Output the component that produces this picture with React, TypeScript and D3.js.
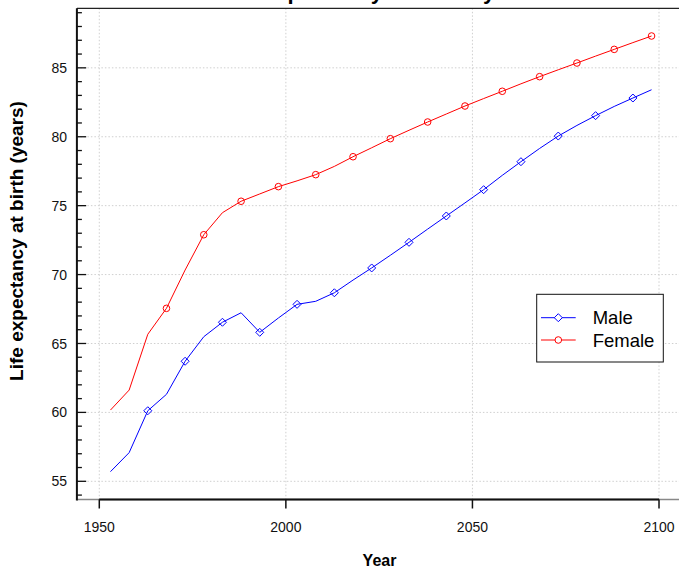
import React from "react";
import * as d3 from "d3";

const years = [1953, 1958, 1963, 1968, 1973, 1978, 1983, 1988, 1993, 1998, 2003, 2008, 2013, 2018, 2023, 2028, 2033, 2038, 2043, 2048, 2053, 2058, 2063, 2068, 2073, 2078, 2083, 2088, 2093, 2098];
const male = [55.70, 57.08, 60.12, 61.31, 63.71, 65.49, 66.54, 67.23, 65.81, 66.85, 67.84, 68.06, 68.68, 69.6, 70.48, 71.4, 72.34, 73.3, 74.25, 75.2, 76.16, 77.2, 78.19, 79.15, 80.05, 80.82, 81.53, 82.2, 82.81, 83.41];
const female = [60.17, 61.62, 65.67, 67.55, 70.33, 72.89, 74.49, 75.32, 75.85, 76.38, 76.8, 77.25, 77.85, 78.55, 79.2, 79.86, 80.47, 81.07, 81.65, 82.23, 82.77, 83.30, 83.84, 84.36, 84.86, 85.35, 85.85, 86.34, 86.83, 87.31];
const xTicks = [1950, 2000, 2050, 2100];
const yTicks = [55, 60, 65, 70, 75, 80, 85];
const yMinorTicks = [54, 55, 56, 57, 58, 59, 60, 61, 62, 63, 64, 65, 66, 67, 68, 69, 70, 71, 72, 73, 74, 75, 76, 77, 78, 79, 80, 81, 82, 83, 84, 85, 86, 87, 88, 89];
const seriesNames = ["Male", "Female"];
const title = "Life expectancy at birth by sex";
const xLabel = "Year";
const yLabel = "Life expectancy at birth (years)";

const W = 679, H = 570;
const FONT = "'Liberation Sans', Arial, Helvetica, sans-serif";

export default function App() {
  const left = 76.9, right = 681.4, top = 8.3, bottom = 499.5;
  const x = d3.scaleLinear().domain([1944, 2106]).range([left, right]);
  const y = d3.scaleLinear().domain([53.68, 89.32]).range([bottom, top]);
  const line = d3.line<number>().x((_, i) => x(years[i])).y((d) => y(d));

  const maleIdx = years.map((_, i) => i).filter((i) => i % 2 === 0 && i >= 2);
  const femIdx = years.map((_, i) => i).filter((i) => i % 2 === 1 && i >= 3);

  const diamond = (cx: number, cy: number, r = 4) =>
    `M${cx},${cy - r}L${cx + r},${cy}L${cx},${cy + r}L${cx - r},${cy}Z`;

  const grid = { stroke: "#cfcfcf", strokeWidth: 1, strokeDasharray: "1.5,2" };

  const legX = 536.7, legY = 294.3, legW = 126.6, legH = 67.7;

  return (
    <svg width={W} height={H} style={{ position: "absolute", left: 0, top: 0, background: "#fff" }} fontFamily={FONT}>
      <rect x={0} y={0} width={W} height={H} fill="#fff" />
      {/* grid */}
      {xTicks.map((t) => (
        <line key={"gx" + t} x1={x(t)} x2={x(t)} y1={top} y2={bottom} {...grid} />
      ))}
      {yTicks.map((t) => (
        <line key={"gy" + t} x1={left} x2={right} y1={y(t)} y2={y(t)} {...grid} />
      ))}
      {/* box */}
      <line x1={left} x2={right} y1={top} y2={top} stroke="#222" strokeWidth={1.2} />
      <line x1={left} x2={right} y1={bottom} y2={bottom} stroke="#888" strokeWidth={1.5} />
      <line x1={x(1950)} x2={x(2100)} y1={bottom} y2={bottom} stroke="#111" strokeWidth={2} />
      <line x1={left} x2={left} y1={top} y2={bottom + 1} stroke="#111" strokeWidth={2} />
      {/* x ticks */}
      {xTicks.map((t) => (
        <g key={"xt" + t}>
          <line x1={x(t)} x2={x(t)} y1={bottom} y2={bottom + 9} stroke="#111" strokeWidth={1.5} />
          <text x={x(t)} y={531.5} textAnchor="middle" fontSize={14} fill="#111">{t}</text>
        </g>
      ))}
      {/* y ticks */}
      {yMinorTicks.map((t) => (
        <line key={"ym" + t} x1={left} x2={left + (t % 5 === 0 ? 9.3 : 5)} y1={y(t)} y2={y(t)} stroke="#111" strokeWidth={1.3} />
      ))}
      {yTicks.map((t) => (
        <text key={"yl" + t} x={67} y={y(t)} dy="0.36em" textAnchor="end" fontSize={14} fill="#111">{t}</text>
      ))}
      {/* lines */}
      <path d={line(female) || ""} fill="none" stroke="#ff0000" strokeWidth={1} />
      <path d={line(male) || ""} fill="none" stroke="#0000ff" strokeWidth={1} />
      {femIdx.map((i) => (
        <circle key={"fc" + i} cx={x(years[i])} cy={y(female[i])} r={3.3} fill="none" stroke="#ff0000" strokeWidth={1} />
      ))}
      {maleIdx.map((i) => (
        <path key={"md" + i} d={diamond(x(years[i]), y(male[i]))} fill="none" stroke="#0000ff" strokeWidth={1} />
      ))}
      {/* legend */}
      <rect x={legX} y={legY} width={legW} height={legH} fill="#fff" stroke="#111" strokeWidth={1} />
      <line x1={541} x2={575.7} y1={317.7} y2={317.7} stroke="#0000ff" strokeWidth={1} />
      <path d={diamond(558.3, 317.7)} fill="#fff" stroke="#0000ff" strokeWidth={1} />
      <text x={592.7} y={317.7} dy="0.36em" fontSize={18.5} fill="#000">{seriesNames[0]}</text>
      <line x1={541} x2={575.7} y1={340} y2={340} stroke="#ff0000" strokeWidth={1} />
      <circle cx={558.3} cy={340} r={3.3} fill="#fff" stroke="#ff0000" strokeWidth={1} />
      <text x={592.7} y={340} dy="0.36em" fontSize={18.5} fill="#000">{seriesNames[1]}</text>
      {/* labels */}
      <text x={378} y={-1} textAnchor="middle" fontSize={22} fontWeight="bold" fill="#000">{title}</text>
      <text x={379.5} y={566} textAnchor="middle" fontSize={16} fontWeight="bold" fill="#000">{xLabel}</text>
      <text transform="translate(22.5,241) rotate(-90)" textAnchor="middle" fontSize={19} fontWeight="bold" fill="#000">{yLabel}</text>
    </svg>
  );
}
